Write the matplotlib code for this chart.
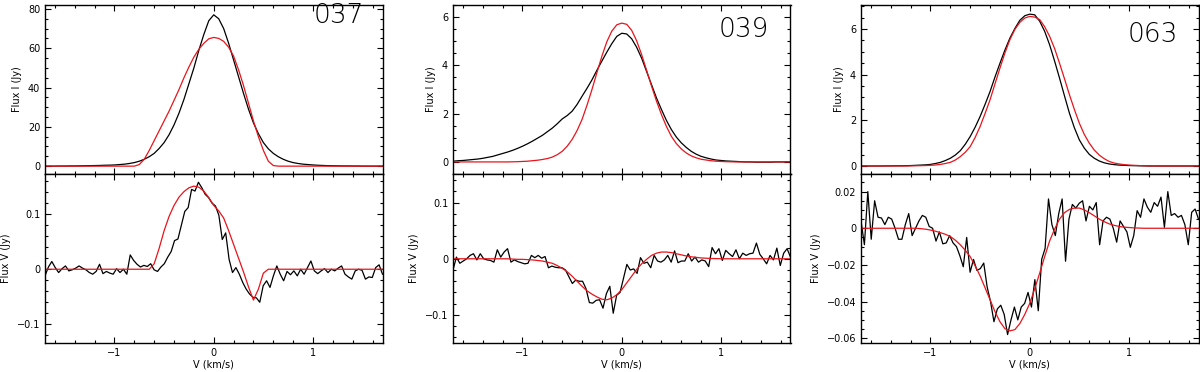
import numpy as np
import matplotlib
matplotlib.use("Agg")
import matplotlib.pyplot as plt
from matplotlib.ticker import MultipleLocator, FuncFormatter

# ---------------- data ----------------
LABELS = ["037", "039", "063"]

# smooth profiles sampled every 0.05 km/s from -1.7 to 1.7 (69 points)
V_SMOOTH = np.linspace(-1.7, 1.7, 69)
# observed (noisy) Stokes V spectra, 100 channels from -1.7 to 1.7
V_CHAN = np.linspace(-1.7, 1.7, 100)

P1_I_OBS = [0.0, 0.0, 0.0, 0.05, 0.05, 0.1, 0.1, 0.15, 0.2, 0.25,
            0.3, 0.35, 0.45, 0.5, 0.6, 0.8, 1.0, 1.35, 1.8, 2.5,
            3.5, 4.8, 6.5, 9.0, 12.0, 16.0, 21.0, 27.0, 34.0, 42.0,
            50.0, 59.0, 67.0, 74.0, 77.0, 75.0, 70.0, 62.5, 54.0, 45.5,
            37.0, 29.0, 22.0, 16.5, 12.0, 8.8, 6.5, 4.8, 3.5, 2.5,
            1.8, 1.35, 1.0, 0.8, 0.6, 0.45, 0.35, 0.25, 0.2, 0.15,
            0.1, 0.1, 0.05, 0.05, 0.0, 0.0, 0.0, 0.0, 0.0]
P1_I_MOD = [0, 0, 0, 0, 0, 0, 0, 0, 0, 0,
            0, 0, 0, 0, 0, 0, 0, 0, 0, 0.8,
            3.5, 8.0, 13.0, 18.0, 23.0, 28.0, 33.5, 39.0, 45.0, 50.5,
            55.5, 59.5, 62.5, 64.8, 65.5, 65.0, 63.5, 60.5, 56.0, 49.0,
            41.0, 32.0, 23.0, 15.0, 8.0, 2.5, 0.3, 0, 0, 0,
            0, 0, 0, 0, 0, 0, 0, 0, 0, 0,
            0, 0, 0, 0, 0, 0, 0, 0, 0]
P1_V_MOD = [0, 0, 0, 0, 0, 0, 0, 0, 0, 0,
            0, 0, 0, 0, 0, 0, 0, 0, 0, 0,
            0, 0, 0.010, 0.038, 0.070, 0.096, 0.116, 0.131, 0.141, 0.148,
            0.151, 0.149, 0.142, 0.130, 0.116, 0.106, 0.093, 0.070, 0.045, 0.020,
            -0.005, -0.032, -0.056, -0.036, -0.007, 0, 0, 0, 0, 0,
            0, 0, 0, 0, 0, 0, 0, 0, 0, 0,
            0, 0, 0, 0, 0, 0, 0, 0, 0]
P1_V_OBS = [-0.012, 0.004, 0.014, 0.003, -0.006, 0.001, 0.006, -0.003, -0.001, 0.002,
            0.006, 0.002, -0.001, -0.006, -0.009, -0.004, 0.009, -0.008, -0.004, -0.007,
            -0.009, 0.001, -0.006, 0.000, -0.009, 0.026, 0.016, 0.009, 0.004, 0.007,
            0.005, 0.010, -0.001, -0.004, 0.004, 0.010, 0.022, 0.032, 0.052, 0.055,
            0.080, 0.105, 0.112, 0.145, 0.142, 0.158, 0.148, 0.136, 0.130, 0.120,
            0.115, 0.098, 0.054, 0.066, 0.018, -0.006, 0.003, -0.009, -0.024, -0.036,
            -0.045, -0.051, -0.052, -0.060, -0.030, -0.021, -0.033, -0.012, 0.006, -0.009,
            -0.021, -0.004, -0.010, -0.003, -0.012, 0.000, -0.009, 0.003, 0.015, -0.003,
            -0.008, -0.003, 0.001, -0.006, 0.000, -0.003, 0.002, 0.006, -0.009, -0.014,
            -0.018, -0.003, 0.000, -0.002, -0.018, -0.014, -0.015, 0.003, 0.008, -0.009]

P2_I_OBS = [0.03, 0.05, 0.06, 0.08, 0.10, 0.12, 0.15, 0.19, 0.23, 0.29,
            0.35, 0.41, 0.48, 0.56, 0.65, 0.75, 0.86, 0.98, 1.10, 1.25,
            1.40, 1.58, 1.78, 1.92, 2.10, 2.38, 2.72, 3.05, 3.40, 3.80,
            4.18, 4.55, 4.90, 5.20, 5.33, 5.30, 5.10, 4.75, 4.30, 3.75,
            3.20, 2.65, 2.17, 1.72, 1.34, 1.03, 0.79, 0.60, 0.44, 0.32,
            0.23, 0.17, 0.12, 0.08, 0.06, 0.04, 0.03, 0.02, 0.01, 0.0,
            0.0, -0.01, -0.01, -0.01, -0.01, 0.0, 0.0, 0.0, 0.0]
P2_I_MOD = [0, 0, 0, 0, 0, 0, 0, 0, 0, 0,
            0, 0, 0.005, 0.01, 0.02, 0.03, 0.05, 0.07, 0.10, 0.14,
            0.20, 0.30, 0.44, 0.65, 0.93, 1.30, 1.76, 2.35, 3.00, 3.70,
            4.38, 4.98, 5.42, 5.68, 5.75, 5.70, 5.45, 5.02, 4.45, 3.80,
            3.14, 2.52, 1.96, 1.47, 1.06, 0.76, 0.54, 0.37, 0.25, 0.17,
            0.11, 0.08, 0.05, 0.03, 0.02, 0.01, 0.005, 0, 0, 0,
            0, 0, 0, 0, 0, 0, 0, 0, 0]
P2_V_MOD = [0, 0, 0, 0, 0, 0, 0, 0, 0, 0,
            0, 0, -0.0005, -0.001, -0.001, -0.0015, -0.002, -0.003, -0.004, -0.006,
            -0.008, -0.012, -0.017, -0.023, -0.031, -0.040, -0.049, -0.057, -0.063, -0.068,
            -0.072, -0.073, -0.070, -0.064, -0.055, -0.043, -0.031, -0.019, -0.009, -0.001,
            0.006, 0.010, 0.012, 0.012, 0.011, 0.009, 0.007, 0.005, 0.0035, 0.0025,
            0.0015, 0.001, 0.0005, 0.0003, 0.0001, 0, 0, 0, 0, 0,
            0, 0, 0, 0, 0, 0, 0, 0, 0]
P2_V_OBS = [-0.020, 0.003, -0.008, -0.004, 0.000, 0.006, 0.009, -0.002, 0.009, 0.000,
            -0.002, -0.003, -0.006, 0.016, 0.003, 0.012, 0.018, -0.006, -0.002, -0.005,
            -0.007, -0.009, -0.008, 0.006, 0.002, 0.006, 0.001, 0.004, -0.016, -0.013,
            -0.015, -0.016, -0.016, -0.020, -0.032, -0.044, -0.038, -0.040, -0.040, -0.053,
            -0.078, -0.079, -0.074, -0.073, -0.088, -0.062, -0.049, -0.097, -0.065, -0.060,
            -0.035, -0.010, -0.020, -0.018, -0.026, 0.002, -0.008, -0.006, -0.016, 0.006,
            -0.004, -0.006, -0.002, 0.006, -0.006, 0.014, -0.007, -0.004, -0.004, 0.009,
            -0.004, 0.003, -0.006, -0.002, -0.004, -0.014, 0.020, 0.009, 0.018, -0.003,
            0.015, 0.009, 0.004, 0.016, 0.000, 0.010, 0.006, 0.009, 0.010, 0.028,
            0.008, 0.000, -0.009, 0.006, -0.002, 0.019, -0.012, 0.010, 0.018, 0.003]

P3_I_OBS = [0, 0, 0, 0, 0, 0.005, 0.005, 0.01, 0.01, 0.015,
            0.02, 0.03, 0.04, 0.05, 0.07, 0.11, 0.16, 0.24, 0.34, 0.48,
            0.67, 0.95, 1.29, 1.70, 2.17, 2.70, 3.26, 3.90, 4.50, 5.08,
            5.60, 6.02, 6.38, 6.58, 6.65, 6.62, 6.34, 5.90, 5.31, 4.60,
            3.85, 3.07, 2.31, 1.67, 1.14, 0.78, 0.51, 0.34, 0.22, 0.14,
            0.09, 0.06, 0.04, 0.03, 0.02, 0.015, 0.01, 0.005, 0, 0,
            0, 0, 0, 0, 0, 0, 0, 0, 0]
P3_I_MOD = [0, 0, 0, 0, 0, 0, 0, 0, 0, 0,
            0.005, 0.01, 0.015, 0.02, 0.03, 0.045, 0.07, 0.11, 0.16, 0.26,
            0.41, 0.60, 0.85, 1.25, 1.73, 2.30, 2.90, 3.60, 4.29, 4.95,
            5.53, 5.98, 6.29, 6.48, 6.55, 6.52, 6.41, 6.10, 5.68, 5.15,
            4.50, 3.82, 3.12, 2.47, 1.87, 1.38, 1.00, 0.70, 0.48, 0.32,
            0.20, 0.13, 0.09, 0.06, 0.04, 0.03, 0.02, 0.01, 0.005, 0.003,
            0, 0, 0, 0, 0, 0, 0, 0, 0]
P3_V_MOD = [0, 0, 0, 0, 0, 0, 0, 0, 0, 0,
            0, 0, -0.0002, -0.0005, -0.001, -0.0016, -0.0024, -0.0033, -0.0045, -0.0065,
            -0.009, -0.012, -0.0155, -0.0205, -0.026, -0.0325, -0.039, -0.0455, -0.051, -0.0548,
            -0.056, -0.0553, -0.052, -0.047, -0.041, -0.033, -0.0245, -0.0155, -0.007, -0.0005,
            0.005, 0.0085, 0.0103, 0.011, 0.011, 0.010, 0.0085, 0.0068, 0.005, 0.0036,
            0.0024, 0.0016, 0.001, 0.0006, 0.0004, 0.0002, 0.0001, 0, 0, 0,
            0, 0, 0, 0, 0, 0, 0, 0, 0]
P3_V_OBS = [0.004, -0.009, 0.020, -0.006, 0.015, 0.006, 0.0056, 0.002, 0.006, 0.005,
            0.000, -0.006, -0.006, 0.002, 0.008, -0.004, 0.000, 0.004, 0.007, 0.006,
            0.001, 0.000, -0.007, -0.002, -0.0085, -0.008, -0.004, -0.008, -0.010, -0.015,
            -0.021, -0.005, -0.024, -0.017, -0.023, -0.022, -0.019, -0.032, -0.040, -0.051,
            -0.044, -0.042, -0.047, -0.058, -0.050, -0.043, -0.050, -0.043, -0.041, -0.035,
            -0.043, -0.028, -0.045, -0.017, -0.011, 0.016, 0.002, -0.004, 0.008, 0.016,
            -0.018, 0.005, 0.013, 0.011, 0.0136, 0.015, 0.004, 0.012, 0.010, 0.014,
            -0.009, 0.004, 0.006, 0.005, 0.000, -0.0076, 0.004, 0.001, -0.002, -0.0104,
            -0.004, 0.0096, 0.006, 0.016, 0.0115, 0.0087, 0.014, 0.012, 0.017, 0.0005,
            0.020, 0.007, 0.008, 0.006, 0.007, 0.002, -0.009, 0.0087, 0.0105, 0.005]

PANELS = [
    dict(i_obs=P1_I_OBS, i_mod=P1_I_MOD, v_obs=P1_V_OBS, v_mod=P1_V_MOD,
         ilim=(-4, 82), imaj=20, imin=5, vlim=(-0.134, 0.173), vmaj=0.1, vmin=0.02,
         lab=(0.945, 0.935)),
    dict(i_obs=P2_I_OBS, i_mod=P2_I_MOD, v_obs=P2_V_OBS, v_mod=P2_V_MOD,
         ilim=(-0.5, 6.5), imaj=2, imin=0.5, vlim=(-0.15, 0.151), vmaj=0.1, vmin=0.02,
         lab=(0.937, 0.855)),
    dict(i_obs=P3_I_OBS, i_mod=P3_I_MOD, v_obs=P3_V_OBS, v_mod=P3_V_MOD,
         ilim=(-0.35, 7.05), imaj=2, imin=0.5, vlim=(-0.0626, 0.0296), vmaj=0.02, vmin=0.005,
         lab=(0.94, 0.825)),
]

RED = "#e8141c"


def fmt(x, pos):
    x = round(x, 6)
    if abs(x) < 1e-9:
        return "0"
    return f"{x:g}".replace("-", "\u2212")


def style(ax, maj, mnr):
    ax.set_xlim(-1.7, 1.7)
    ax.xaxis.set_major_locator(MultipleLocator(1))
    ax.xaxis.set_minor_locator(MultipleLocator(0.2))
    ax.yaxis.set_major_locator(MultipleLocator(maj))
    ax.yaxis.set_minor_locator(MultipleLocator(mnr))
    ax.yaxis.set_major_formatter(FuncFormatter(fmt))
    ax.xaxis.set_major_formatter(FuncFormatter(fmt))
    ax.tick_params(which="both", direction="in", top=True, right=True,
                   width=0.8, labelsize=7)
    ax.tick_params(which="major", length=4.5)
    ax.tick_params(which="minor", length=2.2)
    for s in ax.spines.values():
        s.set_linewidth(1.0)


fig = plt.figure(figsize=(12, 3.72), dpi=100)
lefts = [45 / 1200, 453 / 1200, 861 / 1200]
width = 337.5 / 1200
h = 169 / 372
bot_low = 29 / 372
bot_up = bot_low + h

for k, (p, lft) in enumerate(zip(PANELS, lefts)):
    ax1 = fig.add_axes([lft, bot_up, width, h])
    ax2 = fig.add_axes([lft, bot_low, width, h], sharex=ax1)

    ax1.plot(V_SMOOTH, p["i_obs"], color="black", lw=0.9)
    ax1.plot(V_SMOOTH, p["i_mod"], color=RED, lw=0.9)
    ax1.set_ylim(*p["ilim"])
    style(ax1, p["imaj"], p["imin"])
    ax1.tick_params(labelbottom=False)
    ax1.set_ylabel("Flux I (Jy)", fontsize=7)
    ax1.text(p["lab"][0], p["lab"][1], LABELS[k], transform=ax1.transAxes,
             ha="right", va="center", fontsize=19, family="DejaVu Sans",
             fontweight="light", color="black")

    ax2.plot(V_CHAN, p["v_obs"], color="black", lw=0.9)
    ax2.plot(V_SMOOTH, p["v_mod"], color=RED, lw=0.9)
    ax2.set_ylim(*p["vlim"])
    style(ax2, p["vmaj"], p["vmin"])
    ax2.set_ylabel("Flux V (Jy)", fontsize=7)
    ax2.set_xlabel("V (km/s)", fontsize=7, labelpad=1)

fig.savefig("out.png", dpi=100)
